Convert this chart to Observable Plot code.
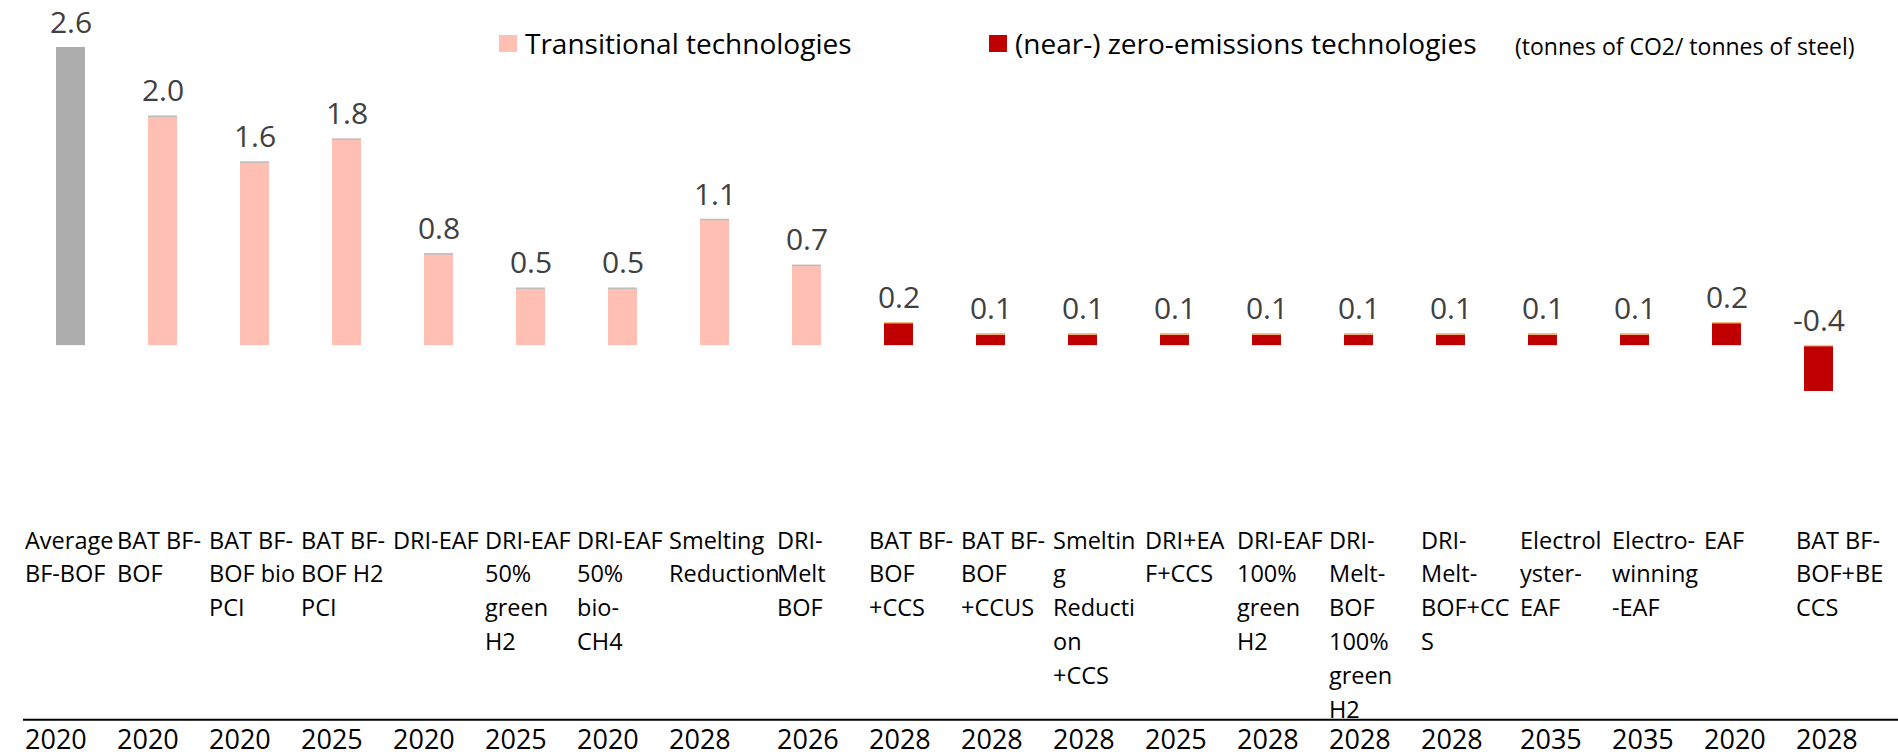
<!DOCTYPE html>
<html>
<head>
<meta charset="utf-8">
<script src="https://cdn.jsdelivr.net/npm/d3@7"></script>
<script src="https://cdn.jsdelivr.net/npm/@observablehq/plot@0.6"></script>
<style>
  html, body { margin: 0; padding: 0; background: #fff; }
  #wrap { position: relative; width: 1898px; height: 755px; font-family: "Open Sans", sans-serif; }
  .legend { position: absolute; top: 0; left: 0; width: 1898px; height: 0; }
  .item { position: absolute; top: 18px; display: flex; align-items: center; font-size: 28px; color: #000; white-space: nowrap; line-height: 50px; }
  .sw { width: 18px; height: 17px; margin-right: 8px; }
  .unit { position: absolute; top: 21px; font-size: 23px; color: #000; white-space: nowrap; line-height: 50px; }
</style>
</head>
<body>
<div id="wrap"></div>
<script>
// ---- data ----
const categories = [
  "Average BF-BOF", "BAT BF-BOF", "BAT BF-BOF bio PCI", "BAT BF-BOF H2 PCI", "DRI-EAF",
  "DRI-EAF 50% green H2", "DRI-EAF 50% bio-CH4", "Smelting Reduction", "DRI-Melt BOF",
  "BAT BF-BOF +CCS", "BAT BF-BOF +CCUS", "Smelting Reduction +CCS", "DRI+EAF+CCS",
  "DRI-EAF 100% green H2", "DRI-Melt-BOF 100% green H2", "DRI-Melt-BOF+CCS",
  "Electrolyster-EAF", "Electro-winning-EAF", "EAF", "BAT BF-BOF+BECCS"
];
const tickLabels = [
  "Average\nBF-BOF", "BAT BF-\nBOF", "BAT BF-\nBOF bio\nPCI", "BAT BF-\nBOF H2\nPCI", "DRI-EAF",
  "DRI-EAF\n50%\ngreen\nH2", "DRI-EAF\n50%\nbio-\nCH4", "Smelting\nReduction", "DRI-\nMelt\nBOF",
  "BAT BF-\nBOF\n+CCS", "BAT BF-\nBOF\n+CCUS", "Smeltin\ng\nReducti\non\n+CCS", "DRI+EA\nF+CCS",
  "DRI-EAF\n100%\ngreen\nH2", "DRI-\nMelt-\nBOF\n100%\ngreen\nH2", "DRI-\nMelt-\nBOF+CC\nS",
  "Electrol\nyster-\nEAF", "Electro-\nwinning\n-EAF", "EAF", "BAT BF-\nBOF+BE\nCCS"
];
const years = [2020, 2020, 2020, 2025, 2020, 2025, 2020, 2028, 2026, 2028,
               2028, 2028, 2025, 2028, 2028, 2028, 2035, 2035, 2020, 2028];
const values = [2.6, 2.0, 1.6, 1.8, 0.8, 0.5, 0.5, 1.1, 0.7, 0.2,
                0.1, 0.1, 0.1, 0.1, 0.1, 0.1, 0.1, 0.1, 0.2, -0.4];
const groups = ["Average",
  "Transitional technologies", "Transitional technologies", "Transitional technologies",
  "Transitional technologies", "Transitional technologies", "Transitional technologies",
  "Transitional technologies", "Transitional technologies",
  "(near-) zero-emissions technologies", "(near-) zero-emissions technologies",
  "(near-) zero-emissions technologies", "(near-) zero-emissions technologies",
  "(near-) zero-emissions technologies", "(near-) zero-emissions technologies",
  "(near-) zero-emissions technologies", "(near-) zero-emissions technologies",
  "(near-) zero-emissions technologies", "(near-) zero-emissions technologies",
  "(near-) zero-emissions technologies"];
const groupDomain = ["Average", "Transitional technologies", "(near-) zero-emissions technologies"];
const unitText = "(tonnes of CO2/ tonnes of steel)";

// ---- styles ----
const groupColors = ["#adadad", "#ffc0b3", "#c00000"];
const capColors = {"Transitional technologies": "#bdbdbd", "(near-) zero-emissions technologies": "#f7c27e"};

const data = categories.map((c, i) => ({cat: c, label: tickLabels[i], year: years[i], value: values[i], group: groups[i]}));
const labelOf = new Map(data.map(d => [d.cat, d.label]));
const yearOf = new Map(data.map(d => [d.cat, String(d.year)]));

// table columns of the data table below the chart are not exactly aligned with the bars
function tableColumn(cols, dx) {
  return [
    Plot.axisX({
      anchor: "bottom", ticks: cols, tickSize: 0, tickPadding: 0, label: null,
      tickFormat: d => labelOf.get(d),
      textAnchor: "start", dx, dy: 133, lineAnchor: "top", lineHeight: 1.44,
      fontSize: 23.5, fill: "#000"
    }),
    Plot.axisX({
      anchor: "bottom", ticks: cols, tickSize: 0, tickPadding: 0, label: null,
      tickFormat: d => yearOf.get(d),
      textAnchor: "start", dx, dy: 338, lineAnchor: "top",
      fontSize: 27, fill: "#000"
    })
  ];
}

const plot = Plot.plot({
  width: 1898,
  height: 755,
  marginLeft: 23,
  marginRight: 32,
  marginTop: 47,
  marginBottom: 364,
  style: {fontFamily: "Open Sans", background: "#fff", overflow: "visible"},
  x: {domain: categories, paddingInner: 0.685, paddingOuter: 0.3425, axis: null},
  y: {domain: [-0.4, 2.6], axis: null},
  color: {domain: groupDomain, range: groupColors},
  marks: [
    Plot.barY(data, {x: "cat", y: "value", fill: "group"}),
    Plot.tickY(data.filter(d => d.group !== "Average"), {
      x: "cat", y: d => Math.max(d.value, 0),
      stroke: d => capColors[d.group], strokeWidth: 1.5
    }),
    Plot.text(data, {
      x: "cat", y: d => Math.max(d.value, 0), text: d => d.value.toFixed(1),
      lineAnchor: "bottom", dy: -15, fontSize: 30, fill: "#404040"
    }),
    ...tableColumn(categories.slice(0, 8), -46),
    ...tableColumn(categories.slice(8, 16), -30),
    ...tableColumn(categories.slice(16), -23),
    Plot.ruleY([0], {dy: 374, stroke: "#000", strokeWidth: 2, insetRight: -32})
  ]
});

const wrap = document.getElementById("wrap");
wrap.appendChild(plot);

// legend (HTML overlay, top of chart)
const legend = document.createElement("div");
legend.className = "legend";
const items = [
  {label: groupDomain[1], color: groupColors[1], left: 499},
  {label: groupDomain[2], color: groupColors[2], left: 989}
];
for (const it of items) {
  const el = document.createElement("div");
  el.className = "item";
  el.style.left = it.left + "px";
  const sw = document.createElement("span");
  sw.className = "sw";
  sw.style.background = it.color;
  const tx = document.createElement("span");
  tx.textContent = it.label;
  el.appendChild(sw);
  el.appendChild(tx);
  legend.appendChild(el);
}
const unit = document.createElement("div");
unit.className = "unit";
unit.style.left = "1515px";
unit.textContent = unitText;
legend.appendChild(unit);
wrap.appendChild(legend);
</script>
</body>
</html>
